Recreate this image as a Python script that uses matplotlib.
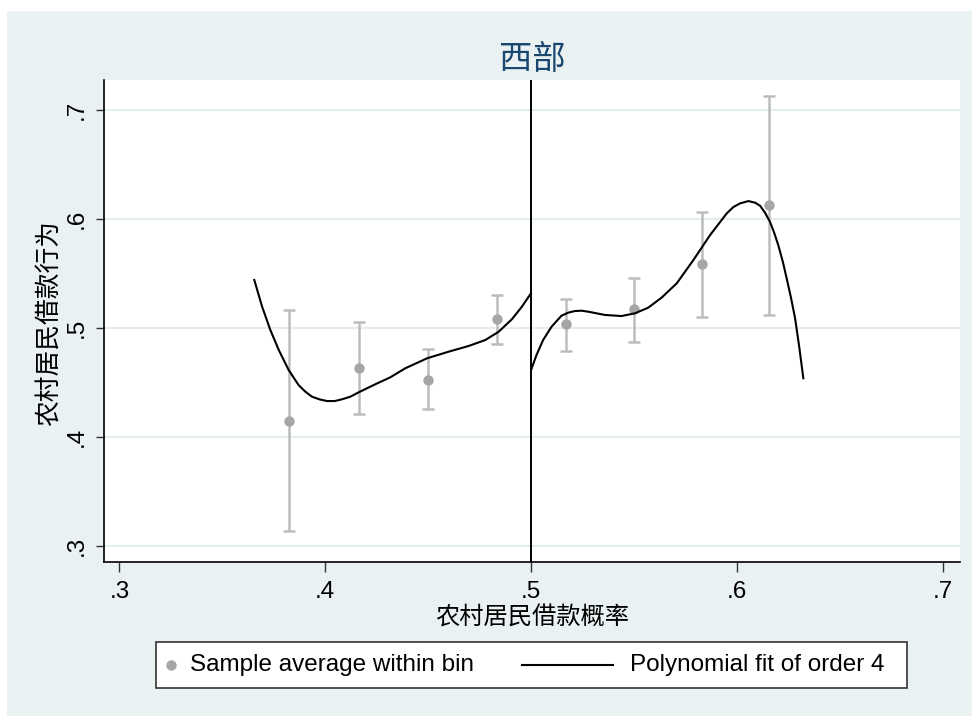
import numpy as np
import matplotlib.pyplot as plt
from matplotlib.patches import Rectangle
from matplotlib.lines import Line2D

plt.rcParams['font.family'] = ['Liberation Sans', 'Noto Sans CJK SC', 'DejaVu Sans']

# binned sample means with 95% CI, left and right of the cutoff
bin_x_left = [0.3825, 0.4162, 0.4499, 0.4833]
bin_y_left = [0.414, 0.463, 0.452, 0.508]
ci_lo_left = [0.313, 0.421, 0.425, 0.485]
ci_hi_left = [0.516, 0.505, 0.480, 0.530]

bin_x_right = [0.5168, 0.5498, 0.5829, 0.6157]
bin_y_right = [0.503, 0.517, 0.558, 0.613]
ci_lo_right = [0.479, 0.487, 0.510, 0.512]
ci_hi_right = [0.526, 0.546, 0.606, 0.713]

# polynomial fit (order 4)
fit_x_left = [0.3655, 0.3693, 0.3733, 0.3774, 0.3822, 0.3870, 0.3903, 0.3935,
              0.3971, 0.4008, 0.4046, 0.4081, 0.4122, 0.4162, 0.4243, 0.4316,
              0.4388, 0.4494, 0.4599, 0.4696, 0.4777, 0.4842, 0.4906, 0.4955,
              0.4999]
fit_y_left = [0.5438, 0.5193, 0.4979, 0.4795, 0.4612, 0.4474, 0.4413, 0.4367,
              0.4343, 0.4327, 0.4327, 0.4343, 0.4367, 0.4407, 0.4481, 0.4545,
              0.4627, 0.4719, 0.4780, 0.4832, 0.4887, 0.4963, 0.5077, 0.5193,
              0.5316]

fit_x_right = [0.5001, 0.5026, 0.5058, 0.5099, 0.5147, 0.5180, 0.5212, 0.5245,
               0.5277, 0.5358, 0.5439, 0.5504, 0.5568, 0.5633, 0.5707, 0.5788,
               0.5869, 0.5950, 0.5982, 0.6015, 0.6055, 0.6088, 0.6112, 0.6136,
               0.6160, 0.6181, 0.6200, 0.6222, 0.6241, 0.6262, 0.6282, 0.6303,
               0.6322]
fit_y_right = [0.4620, 0.4750, 0.4887, 0.5009, 0.5110, 0.5138, 0.5153, 0.5156,
               0.5147, 0.5117, 0.5107, 0.5132, 0.5183, 0.5275, 0.5407, 0.5621,
               0.5850, 0.6049, 0.6107, 0.6141, 0.6162, 0.6147, 0.6119, 0.6055,
               0.5972, 0.5868, 0.5759, 0.5608, 0.5453, 0.5275, 0.5086, 0.4811,
               0.4536]

xticks = [0.3, 0.4, 0.5, 0.6, 0.7]
yticks = [0.3, 0.4, 0.5, 0.6, 0.7]
tick_labels = ['.3', '.4', '.5', '.6', '.7']
cutoff = 0.5

bg = '#EAF1F3'
grid_col = '#E4EEF1'
pt_col = '#A6A6A6'
bar_col = '#BDBDBD'

W, H = 972, 716
fig = plt.figure(figsize=(W / 100, H / 100), dpi=100)
fig.patch.set_facecolor('white')
fig.add_artist(Rectangle((7 / W, 0), 1 - 7 / W, 1 - 11 / H, transform=fig.transFigure,
                         facecolor=bg, edgecolor='none', zorder=-10))

ax = fig.add_axes([104 / W, 1 - 562 / H, (960 - 104) / W, (562 - 80) / H])
ax.set_facecolor('white')

for y in yticks:
    ax.axhline(y, color=grid_col, lw=1.6, zorder=0)

ax.axvline(cutoff, color='black', lw=1.4, zorder=3)

for bx, by, lo, hi in [(bin_x_left, bin_y_left, ci_lo_left, ci_hi_left),
                       (bin_x_right, bin_y_right, ci_lo_right, ci_hi_right)]:
    by = np.array(by)
    err = [by - np.array(lo), np.array(hi) - by]
    ax.errorbar(bx, by, yerr=err, fmt='none', ecolor=bar_col, elinewidth=1.8,
                capsize=4.5, capthick=1.8, zorder=2)
    ax.plot(bx, by, 'o', color=pt_col, ms=7.5, mec='none', zorder=4)

ax.plot(fit_x_left, fit_y_left, color='black', lw=1.5, zorder=5,
        solid_joinstyle='round')
ax.plot(fit_x_right, fit_y_right, color='black', lw=1.5, zorder=5,
        solid_joinstyle='round')

ax.set_xlim(0.2925, 0.7083)
ax.set_ylim(0.2850, 0.7273)
ax.set_xticks(xticks)
ax.set_xticklabels(tick_labels, fontsize=17.5)
ax.set_yticks(yticks)
ax.set_yticklabels(tick_labels, fontsize=17.5, rotation=90, va='center')
ax.tick_params(axis='x', length=7, width=1, color='#333333', pad=7)
ax.tick_params(axis='y', length=6, width=1, color='#333333', pad=6)

for s in ['top', 'right']:
    ax.spines[s].set_visible(False)
for s in ['left', 'bottom']:
    ax.spines[s].set_linewidth(1.2)
    ax.spines[s].set_color('black')

fig.text(532 / W, 1 - 618 / H, '农村居民借款概率', fontsize=17.5, ha='center', va='center',
         family=['Noto Sans CJK SC', 'DejaVu Sans'])
fig.text(50 / W, 1 - 323 / H, '农村居民借款行为', fontsize=18.5, ha='center', va='center',
         rotation=90, family=['Noto Sans CJK SC', 'DejaVu Sans'])
fig.text(532 / W, 1 - 60 / H, '西部', fontsize=24, ha='center', va='center',
         color='#1A476F', family=['Noto Sans CJK SC', 'DejaVu Sans'])

# legend drawn by hand, Stata style
fig.add_artist(Rectangle((156 / W, 1 - 688 / H), (907 - 156) / W, (688 - 642) / H,
                         transform=fig.transFigure, facecolor='white',
                         edgecolor='#333333', lw=1.2))
ly = 1 - 665 / H
fig.add_artist(Line2D([171 / W], [ly], transform=fig.transFigure, marker='o',
                      color=pt_col, ms=7.5, mec='none'))
fig.text(190 / W, ly, 'Sample average within bin', fontsize=17.5, va='center')
fig.add_artist(Line2D([522 / W, 613 / W], [ly, ly], transform=fig.transFigure,
                      color='black', lw=1.5))
fig.text(630 / W, ly, 'Polynomial fit of order 4', fontsize=17.5, va='center')

fig.savefig('out.png', dpi=100)
